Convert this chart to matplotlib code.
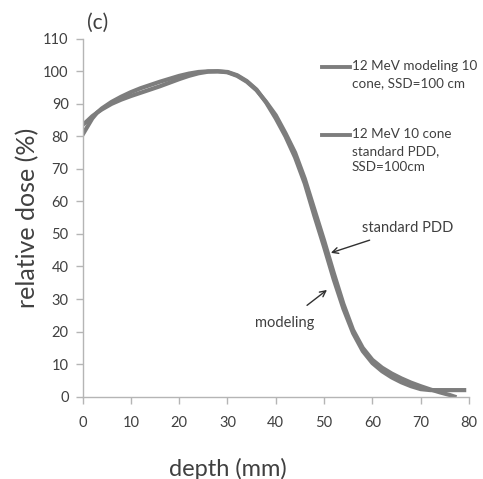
import numpy as np
import matplotlib.pyplot as plt
from matplotlib.lines import Line2D

plt.rcParams['font.family'] = ['Lato', 'DejaVu Sans']

# modeling curve (Monte Carlo)
depth_model = [0, 1, 2, 3, 4, 6, 8, 10, 12, 14, 16, 18, 20, 22, 24, 26, 28, 30,
               32, 34, 36, 38, 40, 42, 44, 46, 48, 50, 52, 54, 56, 58, 60, 62,
               64, 66, 68, 70, 72, 74, 76, 78, 79]
dose_model = [83.5, 84.8, 86.2, 87.3, 88.3, 90.0, 91.3, 92.4, 93.4, 94.4, 95.4,
              96.5, 97.6, 98.6, 99.4, 99.9, 100.0, 99.8, 98.8, 97.0, 94.4, 90.4,
              85.5, 80.0, 73.5, 65.5, 55.5, 46.0, 36.0, 27.0, 19.5, 14.0, 10.3,
              7.8, 5.9, 4.4, 3.2, 2.3, 2.0, 2.0, 2.0, 2.0, 2.0]

# standard PDD curve
depth_std = [0, 1, 2, 3, 4, 6, 8, 10, 12, 14, 16, 18, 20, 22, 24, 26, 28, 30,
             32, 34, 36, 38, 40, 42, 44, 46, 48, 50, 52, 54, 56, 58, 60, 62,
             64, 66, 68, 70, 72, 74, 76, 77]
dose_std = [80.5, 83.0, 85.5, 87.3, 88.6, 90.6, 92.2, 93.6, 94.8, 95.8, 96.8,
            97.7, 98.6, 99.3, 99.8, 100.0, 100.0, 99.7, 98.6, 96.8, 94.2, 90.6,
            86.5, 81.0, 75.0, 67.0, 57.5, 48.0, 38.0, 28.5, 20.5, 15.0, 11.3,
            8.9, 7.1, 5.6, 4.3, 3.2, 2.2, 1.3, 0.5, 0.0]

legend_labels = ['12 MeV modeling 10\ncone, SSD=100 cm',
                 '12 MeV 10 cone\nstandard PDD,\nSSD=100cm']

line_col = '#7d7d7d'
text_col = '#404040'
axis_col = '#b5b5b5'

fig = plt.figure(figsize=(4.83, 4.79), dpi=100)
ax = fig.add_axes([0.171, 0.172, 0.800, 0.747])

ax.plot(depth_model, dose_model, color=line_col, lw=3.0)
ax.plot(depth_std, dose_std, color=line_col, lw=3.0)

ax.set_xlim(0, 80)
ax.set_ylim(0, 110)
ax.set_xticks(np.arange(0, 81, 10))
ax.set_yticks(np.arange(0, 111, 10))
for s in ['top', 'right']:
    ax.spines[s].set_visible(False)
for s in ['left', 'bottom']:
    ax.spines[s].set_color(axis_col)
    ax.spines[s].set_linewidth(1.0)
ax.tick_params(colors=axis_col, labelcolor=text_col, labelsize=10.5,
               length=5, width=1.0)
ax.tick_params(axis='x', pad=9)
ax.tick_params(axis='y', pad=5)

fig.text(0.058, 0.545, 'relative dose (%)', rotation=90, ha='center',
         va='center', fontsize=18, color=text_col)
fig.text(0.472, 0.022, 'depth (mm)', ha='center', va='center',
         fontsize=17, color=text_col)
fig.text(0.180, 0.953, '(c)', ha='left', va='center', fontsize=15,
         color=text_col)

# legend drawn by hand so the line sits next to the first text row
for y_px, lab in zip([67, 135], legend_labels):
    yf = 1 - y_px / 479
    fig.add_artist(Line2D([322 / 483, 350 / 483], [yf, yf], color=line_col,
                          lw=2.8, transform=fig.transFigure))
    fig.text(352 / 483, yf + 0.014, lab, ha='left', va='top', fontsize=9.7,
             color=text_col, linespacing=1.45)

ax.annotate('standard PDD', xy=(51.4, 44.2), xytext=(57.8, 51.9),
            fontsize=10.5, color=text_col, va='center', ha='left',
            arrowprops=dict(arrowstyle='->', color='#303030', lw=1.0,
                            shrinkA=6, shrinkB=0))
ax.annotate('modeling', xy=(50.6, 32.8), xytext=(41.8, 22.7),
            fontsize=10.5, color=text_col, va='center', ha='center',
            arrowprops=dict(arrowstyle='->', color='#303030', lw=1.0,
                            shrinkA=9, shrinkB=0))

fig.savefig('out.png', dpi=100)
